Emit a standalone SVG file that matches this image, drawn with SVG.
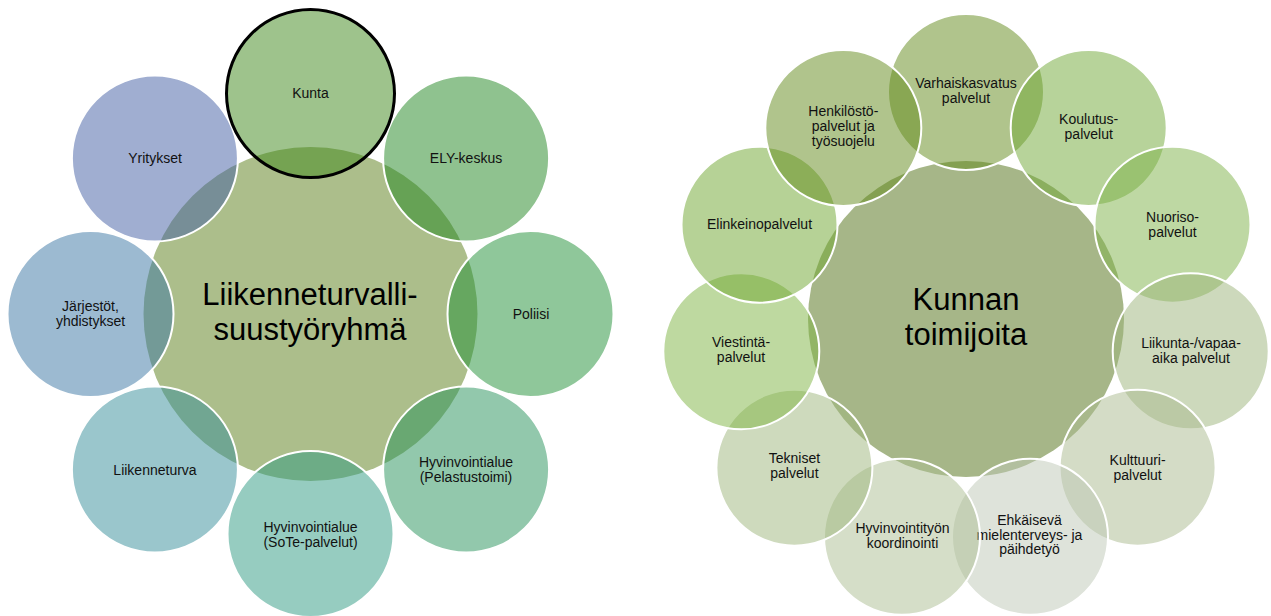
<svg xmlns="http://www.w3.org/2000/svg" width="1271" height="616" viewBox="0 0 1271 616">
<style>
text{font-family:"Liberation Sans",Arial,sans-serif;fill:#111;text-anchor:middle}
.s{font-size:14px}
.big{font-size:31px;fill:#000}
.sat{stroke:#fff;stroke-width:2;fill-opacity:0.5}
.kunta{stroke:#000;stroke-width:3;fill-opacity:0.5}
</style>
<rect width="1271" height="616" fill="#fff"/>
<g id="connectors"/>
<!-- Left diagram -->
<g id="left-center">
<circle cx="310.5" cy="314" r="167" fill="#acbe8b"/>
<text class="big" x="310" y="304.5">Liikenneturvalli-</text>
<text class="big" x="310" y="339.5">suustyöryhmä</text>
</g>
<g id="ely"><circle class="sat" cx="466.1" cy="158.4" r="83" fill="#1f851f"/><text class="s" x="466" y="163">ELY-keskus</text></g>
<g id="poliisi"><circle class="sat" cx="530.5" cy="314" r="83" fill="#1f8f35"/><text class="s" x="531" y="319">Poliisi</text></g>
<g id="pelastus"><circle class="sat" cx="466.1" cy="469.6" r="83" fill="#259159"/><text class="s" x="466" y="467">Hyvinvointialue</text><text class="s" x="466" y="482">(Pelastustoimi)</text></g>
<g id="sote"><circle class="sat" cx="310.5" cy="534" r="83" fill="#2d9981"/><text class="s" x="310.5" y="531.5">Hyvinvointialue</text><text class="s" x="310.5" y="546.5">(SoTe-palvelut)</text></g>
<g id="liikenneturva"><circle class="sat" cx="154.9" cy="469.6" r="83" fill="#358d99"/><text class="s" x="155" y="475">Liikenneturva</text></g>
<g id="jarjestot"><circle class="sat" cx="90.5" cy="314" r="83" fill="#3975a3"/><text class="s" x="90.5" y="311">Järjestöt,</text><text class="s" x="90.5" y="326">yhdistykset</text></g>
<g id="yritykset"><circle class="sat" cx="154.9" cy="158.4" r="83" fill="#415da3"/><text class="s" x="155" y="162.5">Yritykset</text></g>
<g id="kunta"><circle class="kunta" cx="310.5" cy="93.5" r="84" fill="#3d8719"/><text class="s" x="310.5" y="97.5">Kunta</text></g>
<!-- Right diagram -->
<g id="right-center">
<circle cx="966" cy="319" r="158" fill="#a6b688"/>
<text class="big" x="966" y="310">Kunnan</text>
<text class="big" x="966" y="345">toimijoita</text>
</g>
<g id="varhaiskasvatus"><circle class="sat" cx="966" cy="92" r="78" fill="#618919"/><text class="s" x="966" y="87.5">Varhaiskasvatus</text><text class="s" x="966" y="102.5">palvelut</text></g>
<g id="koulutus"><circle class="sat" cx="1088.7" cy="128" r="78" fill="#6fa735"/><text class="s" x="1088.7" y="124">Koulutus-</text><text class="s" x="1088.7" y="139">palvelut</text></g>
<g id="nuoriso"><circle class="sat" cx="1172.5" cy="224.7" r="78" fill="#7db147"/><text class="s" x="1172.5" y="221.5">Nuoriso-</text><text class="s" x="1172.5" y="236.5">palvelut</text></g>
<g id="liikunta"><circle class="sat" cx="1190.7" cy="351.3" r="78" fill="#9bb379"/><text class="s" x="1191" y="348">Liikunta-/vapaa-</text><text class="s" x="1191" y="363">aika palvelut</text></g>
<g id="kulttuuri"><circle class="sat" cx="1137.6" cy="467.7" r="78" fill="#a9b98d"/><text class="s" x="1137.6" y="465">Kulttuuri-</text><text class="s" x="1137.6" y="480">palvelut</text></g>
<g id="ehkaiseva"><circle class="sat" cx="1030" cy="536.8" r="78" fill="#bdc7b5"/><text class="s" x="1029.5" y="525">Ehkäisevä</text><text class="s" x="1029.5" y="539.5">mielenterveys- ja</text><text class="s" x="1029.5" y="553.5">päihdetyö</text></g>
<g id="hyvinvointityo"><circle class="sat" cx="902" cy="536.8" r="78" fill="#abbd91"/><text class="s" x="902.5" y="533">Hyvinvointityön</text><text class="s" x="902.5" y="547.5">koordinointi</text></g>
<g id="tekniset"><circle class="sat" cx="794.4" cy="467.7" r="78" fill="#9db57b"/><text class="s" x="794.4" y="463.3">Tekniset</text><text class="s" x="794.4" y="478.3">palvelut</text></g>
<g id="viestinta"><circle class="sat" cx="741.3" cy="351.3" r="78" fill="#7db341"/><text class="s" x="741" y="346.7">Viestintä-</text><text class="s" x="741" y="361.7">palvelut</text></g>
<g id="elinkeino"><circle class="sat" cx="759.5" cy="224.7" r="78" fill="#6da52d"/><text class="s" x="759.5" y="228.5">Elinkeinopalvelut</text></g>
<g id="henkilosto"><circle class="sat" cx="843.3" cy="128" r="78" fill="#618919"/><text class="s" x="843.3" y="115.7">Henkilöstö-</text><text class="s" x="843.3" y="131">palvelut ja</text><text class="s" x="843.3" y="146">työsuojelu</text></g>
</svg>
